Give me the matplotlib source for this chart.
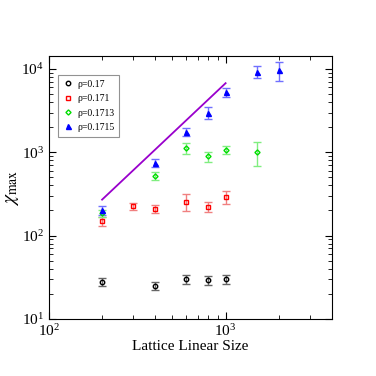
import matplotlib
matplotlib.use("Agg")
import matplotlib.pyplot as plt
from matplotlib.lines import Line2D
import numpy as np

plt.rcParams["font.family"] = ["Liberation Serif", "DejaVu Serif"]
plt.rcParams["mathtext.fontset"] = "stix"

# rho = 0.17
x_a = [200, 400, 600, 800, 1000]
y_a = [28, 25, 30, 29, 30]
e_a = [3, 2.5, 3.5, 3.5, 3.5]

# rho = 0.171
x_b = [200, 300, 400, 600, 800, 1000]
y_b = [148, 224, 209, 255, 222, 288]
e_b = [18, 22, 22, 60, 28, 50]

# rho = 0.1713
x_c = [200, 400, 600, 800, 1000, 1500]
y_c = [185, 524, 1120, 891, 1075, 1000]
e_c = [20, 60, 170, 130, 130, 320]

# rho = 0.1715
x_d = [200, 400, 600, 800, 1000, 1500, 2000]
y_d = [203, 742, 1757, 2990, 5250, 9250, 9700]
e_d = [25, 80, 200, 500, 700, 1500, 2500]

# fitted line ~ L^2
x_fit = np.array([200, 1000])
y_fit = 270 * (x_fit / 200.0) ** 2

fig = plt.figure(figsize=(3.76, 3.76), dpi=100)
ax = fig.add_axes([0.130, 0.152, 0.753, 0.699])

series = [
    (x_a, y_a, e_a, "o", 3.2, "black", "#666666", "none", "ρ=0.17"),
    (x_b, y_b, e_b, "s", 3.2, "red", "#f08080", "none", "ρ=0.171"),
    (x_c, y_c, e_c, "D", 2.6, "#00dd00", "#80ee80", "none", "ρ=0.1713"),
    (x_d, y_d, e_d, "^", 3.6, "blue", "#7070ff", "blue", "ρ=0.1715"),
]
handles = []
for xs, ys, es, m, ms, c, ec, fc, lab in series:
    ax.errorbar(xs, ys, yerr=es, fmt=m, ms=ms, mec=c, mfc=fc,
                mew=1.0, ecolor=ec, elinewidth=1.0, capsize=3, capthick=1.0)
    handles.append(Line2D([], [], ls="none", marker=m, ms=ms, mec=c, mfc=fc,
                          mew=1.0, label=lab))

ax.plot(x_fit, y_fit, color="#9900cc", lw=1.3)

ax.set_xscale("log")
ax.set_yscale("log")
ax.set_xlim(100, 4000)
ax.set_ylim(10, 14300)
ax.set_xlabel("Lattice Linear Size", fontsize=11, labelpad=1)
ax.set_ylabel(r"$\chi_{\mathrm{max}}$", fontsize=14, labelpad=0)
ax.tick_params(which="both", direction="in", top=True, right=True, labelsize=11)
ax.tick_params(which="major", length=5)
ax.tick_params(which="minor", length=3)
ax.xaxis.set_tick_params(pad=3)

leg = ax.legend(handles=handles, loc="upper left", bbox_to_anchor=(0.032, 0.928),
                fontsize=7, frameon=True, fancybox=False, edgecolor="#777777",
                handletextpad=0.5, borderpad=0.5, labelspacing=0.55,
                handlelength=1.0, borderaxespad=0)
leg.get_frame().set_linewidth(0.8)

fig.savefig("out.png", dpi=100)
